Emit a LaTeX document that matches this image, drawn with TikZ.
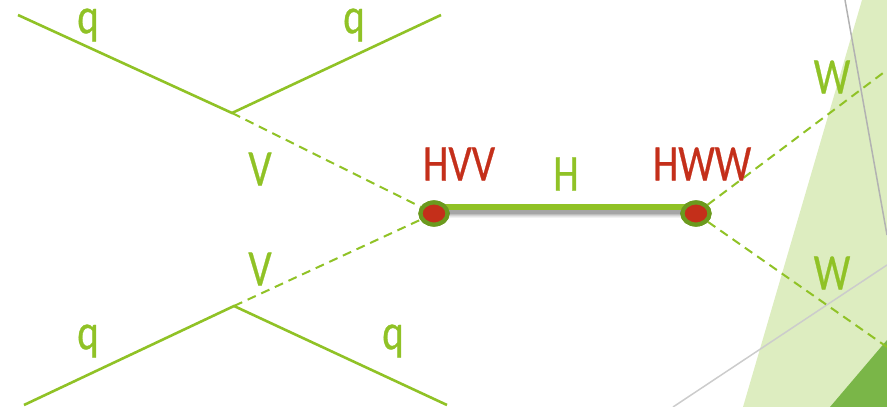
\documentclass[tikz,border=0pt]{standalone}
\usepackage{fontspec}
\setmainfont{Carlito}
\newfontfamily\labfont[FakeBold=0.6]{Carlito}
\usepackage{tikz}
\usetikzlibrary{positioning,shapes.geometric}
\definecolor{leaf}{HTML}{90C226}
\definecolor{pale}{HTML}{DDEDC0}
\definecolor{deep}{HTML}{7AB648}
\definecolor{rust}{HTML}{C42F1A}
\definecolor{moss}{HTML}{6B9A1E}
\newcommand{\tall}[1]{\scalebox{.93}[1.16]{#1}}

\begin{document}
\begin{tikzpicture}[x=1pt, y=-1pt,
  quark/.style={draw=leaf, line width=2.6pt},
  boson/.style={draw=leaf, line width=2pt, dash pattern=on 9pt off 6pt},
  vtx/.style={draw=moss, fill=rust, ellipse, line width=4.2pt, minimum width=27pt, minimum height=22pt, inner sep=0pt},
  lab/.style={text=leaf, font=\labfont\fontsize{44}{44}\selectfont, inner sep=0pt},
  cpl/.style={text=rust, font=\labfont\fontsize{44}{44}\selectfont, inner sep=0pt}]
\useasboundingbox (0,0) rectangle (887,407);
% background
\fill[pale] (743,407) -- (862,0) -- (887,0) -- (887,407) -- cycle;
\fill[deep] (830,407) -- (887,340) -- (887,407) -- cycle;
\draw[black!30, line width=1.5pt] (845,0) -- (887,235);
\draw[black!20, line width=1.5pt] (673,407) -- (887,265);
% vertices and free ends
\coordinate (tl) at (18,15);
\coordinate (tr) at (441,15);
\coordinate (bl) at (24,405);
\coordinate (br) at (447,405);
\coordinate (up) at (232,113);
\coordinate (dn) at (234,306);
\coordinate (wa) at (887,70);
\coordinate (wb) at (887,347);
\coordinate (hl) at (433,207);
\coordinate (hr) at (695,207);
% quark lines
\draw[quark] (tl) -- (up) -- (tr);
\draw[quark] (bl) -- (dn) -- (br);
\node[vtx] (hvv) at (434,213.5) {};
\node[vtx] (hww) at (696,213.5) {};
% bosons
\draw[boson] (up) -- (hvv);
\draw[boson] (dn) -- (hvv);
\draw[boson] (hww) -- (wa);
\draw[boson] (hww) -- (wb);
% higgs with shadow
\foreach \s/\o in {12/.05,10/.06,8/.08,6/.10,4/.12}
  \draw[black, opacity=\o, line width=\s pt] ([yshift=-5pt]hl) -- ([yshift=-5pt]hr);
\draw[leaf, line width=5.5pt] (hl) -- (hr);
\node[vtx] at (hvv) {};
\node[vtx] at (hww) {};
% labels
\node[lab] (q1) at (88,25) {\tall{q}};
\node[lab] (q2) at (354,25) {\tall{q}};
\node[lab] (q3) at (88,341) {\tall{q}};
\node[lab] (q4) at (393,341) {\tall{q}};
\node[lab] (v1) at (260,169) {\tall{V}};
\node[lab] (v2) at (260,269) {\tall{V}};
\node[lab] (h) at (566,174) {\tall{H}};
\node[lab] (w1) at (832,77) {\tall{W}};
\node[lab] (w2) at (832,273) {\tall{W}};
\node[cpl] (l1) at (459,164) {\tall{HVV}};
\node[cpl] (l2) at (702,164) {\tall{HWW}};
\end{tikzpicture}
\end{document}
